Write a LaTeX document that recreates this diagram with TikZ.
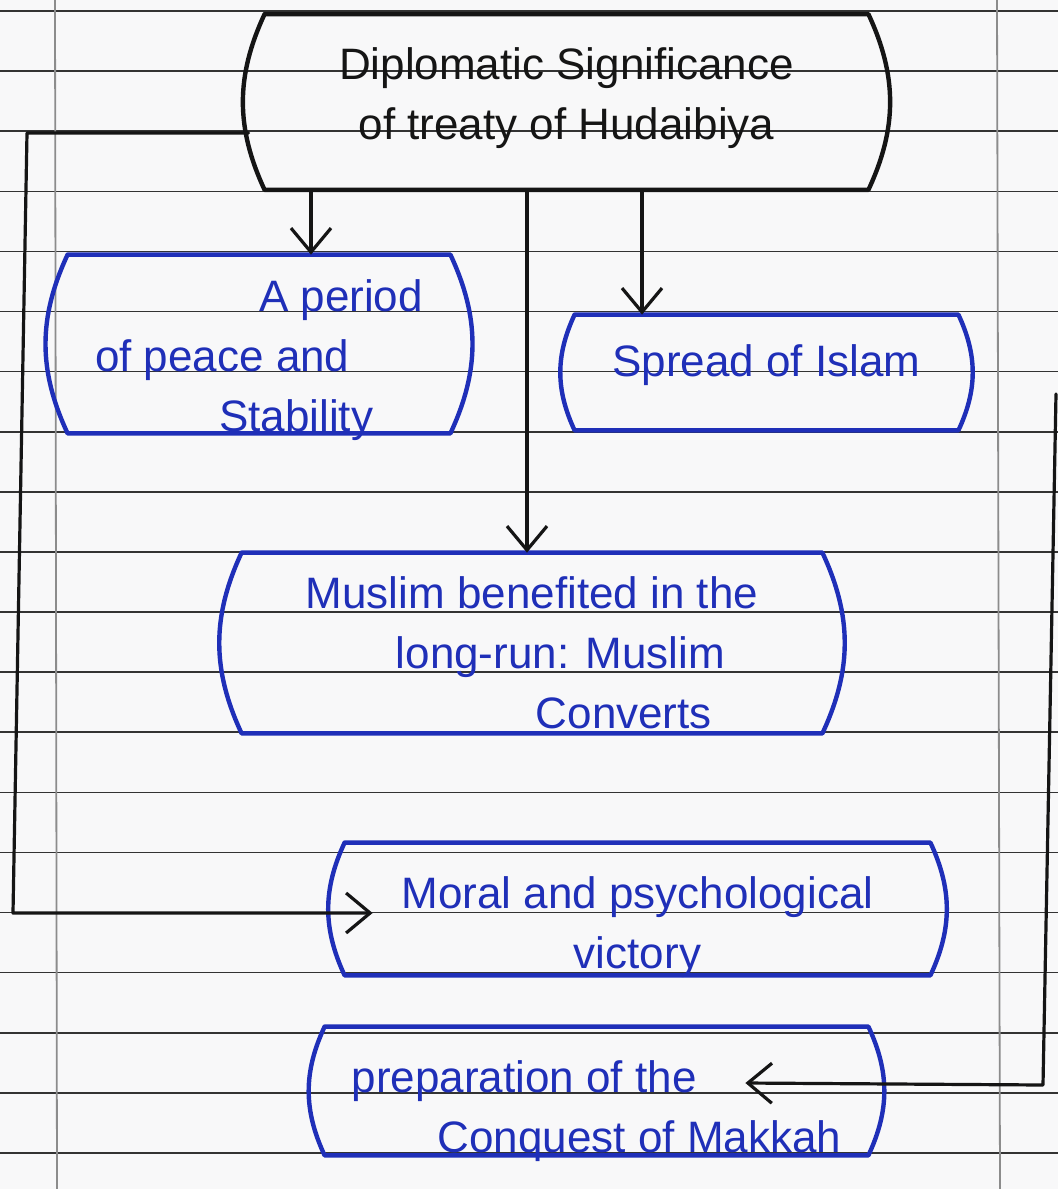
\documentclass[tikz,border=0pt]{standalone}
\usepackage{fontspec}
\setmainfont{Liberation Sans}
\usetikzlibrary{arrows.meta,calc}
\definecolor{inkblue}{HTML}{1F2FB8}
\definecolor{inkblack}{HTML}{151515}
\definecolor{rulecol}{HTML}{333333}
\definecolor{margincol}{HTML}{8C8C8C}
\definecolor{paper}{HTML}{F8F8F9}
% text block of a box: raised/lowered by #1, column type #2, lines #3; takes no height of its own
\newcommand{\boxtext}[3]{\raisebox{#1}[0pt][0pt]{\begin{tabular}[c]{@{}#2@{}}#3\end{tabular}}}
\begin{document}
\begin{tikzpicture}[x=0.5pt,y=-0.5pt,
  boxnode/.style={inner sep=0pt, font=\fontsize{22}{30}\selectfont},
  bluebox/.style={boxnode, text=inkblue},
  blackbox/.style={boxnode, text=inkblack},
  conn/.style={draw=inkblack, line width=1.6pt, line join=round, line cap=round},
  arr/.style={conn, -{Straight Barb[length=12pt,width=20pt,line width=1.6pt]}},
  boxline/.style={line width=2.2pt, line join=round, line cap=round},
  rulestyle/.style={draw=rulecol, line width=0.8pt},
  marginstyle/.style={draw=margincol, line width=0.9pt}]
\useasboundingbox (0,0) rectangle (1058,1189);
\fill[paper] (0,0) rectangle (1058,1189);
% ruled paper
\foreach \k in {0,...,19} \draw[rulestyle] (0,{11+60.1*\k}) -- (1058,{11+60.1*\k});
\draw[marginstyle] (55,0) -- (57,1189);
\draw[marginstyle] (997,0) -- (1000,1189);

% nodes
\node[blackbox, minimum width=301.5pt, minimum height=87.5pt] (top) at (566.5,102)
  {\boxtext{-3pt}{c}{Diplomatic Significance\\of treaty of Hudaibiya}};
\node[bluebox, minimum width=191pt, minimum height=89pt] (peace) at (259,344)
  {\boxtext{-13pt}{l}{\hspace*{82pt}A period\\of peace and\\\hspace*{62pt}Stability}};
\node[bluebox, minimum width=191.5pt, minimum height=57.5pt] (spread) at (766.5,372.5)
  {\boxtext{-1pt}{c}{Spread of Islam}};
\node[bluebox, minimum width=290pt, minimum height=90pt] (muslim) at (532,643)
  {\boxtext{-12pt}{l}{Muslim benefited in the\\\hspace*{45pt}long-run: Muslim\\\hspace*{115pt}Converts}};
\node[bluebox, minimum width=292.5pt, minimum height=66pt] (moral) at (637.5,909)
  {\boxtext{-14pt}{c}{Moral and psychological\\victory}};
\node[bluebox, minimum width=271.5pt, minimum height=64pt] (prep) at (596.5,1091)
  {\boxtext{-15pt}{l}{preparation of the\\\hspace*{43pt}Conquest of Makkah}};

% box outlines (straight top/bottom, bracket-like sides)
\foreach \n/\c in {top/inkblack,peace/inkblue,spread/inkblue,muslim/inkblue,moral/inkblue,prep/inkblue}
  \draw[boxline, draw=\c] (\n.north west) -- (\n.north east) to[bend left=25] (\n.south east)
    -- (\n.south west) to[bend left=25] (\n.north west);

% connectors
\coordinate (a1) at (311,0);
\coordinate (a2) at (642,0);
\coordinate (a3) at (527,0);
\draw[arr] (top.south -| a1) -- (peace.north -| a1);
\draw[arr] (top.south -| a2) -- (spread.north -| a2);
\draw[arr] (top.south -| a3) -- (muslim.north -| a3);

\coordinate (l0) at ($(top.west)+(-16,31)$);
\coordinate (l1) at (27,133);
\coordinate (l2) at (13,913);
\coordinate (mtip) at ($(moral.west)+(28,4)$);
\draw[arr] (l0) -- (l1) -- (l2) -- (mtip);

\coordinate (r1) at (1056,394);
\coordinate (r2) at (1043,1085);
\coordinate (ptip) at ($(prep.east)+(-123,-8)$);
\draw[arr] (r1) -- (r2) -- (ptip);
\end{tikzpicture}
\end{document}
